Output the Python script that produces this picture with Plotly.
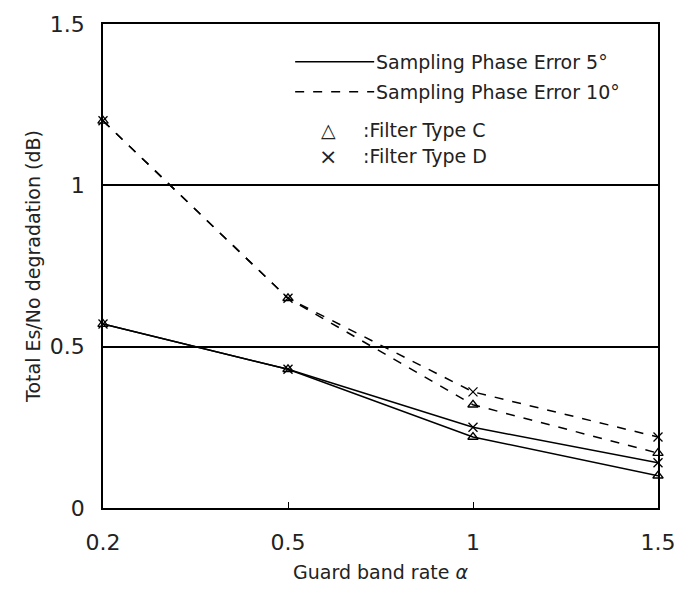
import plotly.graph_objects as go

categories = ["0.2", "0.5", "1", "1.5"]
err5_typeC = [0.57, 0.43, 0.22, 0.10]
err5_typeD = [0.57, 0.43, 0.25, 0.14]
err10_typeC = [1.20, 0.65, 0.32, 0.17]
err10_typeD = [1.20, 0.65, 0.36, 0.22]
y_ticks = [0, 0.5, 1, 1.5]
y_tick_labels = ["0", "0.5", "1", "1.5"]

FONT = "DejaVu Sans"
TXT = "#222"
fig = go.Figure()

series = [
    (err5_typeC, "solid", "triangle-up-open"),
    (err5_typeD, "solid", "x-thin-open"),
    (err10_typeC, "dash", "triangle-up-open"),
    (err10_typeD, "dash", "x-thin-open"),
]
for vals, dash, sym in series:
    fig.add_trace(go.Scatter(
        x=categories, y=vals, mode="lines+markers",
        line=dict(color="black", width=1.5, dash=dash),
        marker=dict(symbol=sym, size=9, color="black", line=dict(width=1.3, color="black")),
        showlegend=False, cliponaxis=False,
    ))

fig.update_xaxes(
    type="category", range=[0, 3], showline=True, linecolor="black", linewidth=1.5,
    mirror=True, ticks="inside", ticklen=6, tickcolor="black", showgrid=False,
    tickfont=dict(family=FONT, size=22, color=TXT), ticklabelstandoff=14,
    title=dict(text="Guard band rate <i>α</i>", font=dict(family=FONT, size=19, color=TXT), standoff=12),
    zeroline=False,
)
fig.update_yaxes(
    range=[0, 1.5], tickvals=y_ticks, ticktext=y_tick_labels, showline=True,
    linecolor="black", linewidth=1.5, mirror=True, ticks="", showgrid=True,
    gridcolor="black", gridwidth=1.5, zeroline=False,
    tickfont=dict(family=FONT, size=22, color=TXT), ticklabelstandoff=12,
    title=dict(text="Total Es/No degradation (dB)", font=dict(family=FONT, size=19, color=TXT), standoff=4),
)

# Legend drawn as a text box inside the plot area
def px_x(p):
    return (p - 103) / 569

def px_y(p):
    return (508 - p) / 486

fig.add_shape(type="line", xref="paper", yref="paper", x0=px_x(300), x1=px_x(381),
              y0=px_y(60), y1=px_y(60), line=dict(color="black", width=1.5))
fig.add_shape(type="line", xref="paper", yref="paper", x0=px_x(300), x1=px_x(381),
              y0=px_y(90), y1=px_y(90), line=dict(color="black", width=1.5, dash="dash"))
legend_rows = [
    (60, "Sampling Phase Error 5°"),
    (90, "Sampling Phase Error 10°"),
    (128, ":Filter Type C"),
    (155, ":Filter Type D"),
]
for yp, txt in legend_rows:
    fig.add_annotation(x=px_x(368 if txt.startswith(":") else 381), y=px_y(yp), xref="paper", yref="paper",
                       text=txt, showarrow=False, xanchor="left", yanchor="middle",
                       font=dict(family=FONT, size=19, color=TXT))
for yp, sym, sz in [(128, "△", 19), (155, "×", 22)]:
    fig.add_annotation(x=px_x(334), y=px_y(yp), xref="paper", yref="paper",
                       text=sym, showarrow=False, xanchor="center", yanchor="middle",
                       font=dict(family=FONT, size=sz, color=TXT))

fig.update_layout(
    width=688, height=595, margin=dict(l=103, r=16, t=22, b=87),
    paper_bgcolor="white", plot_bgcolor="white",
)
fig.write_html("out.html")
